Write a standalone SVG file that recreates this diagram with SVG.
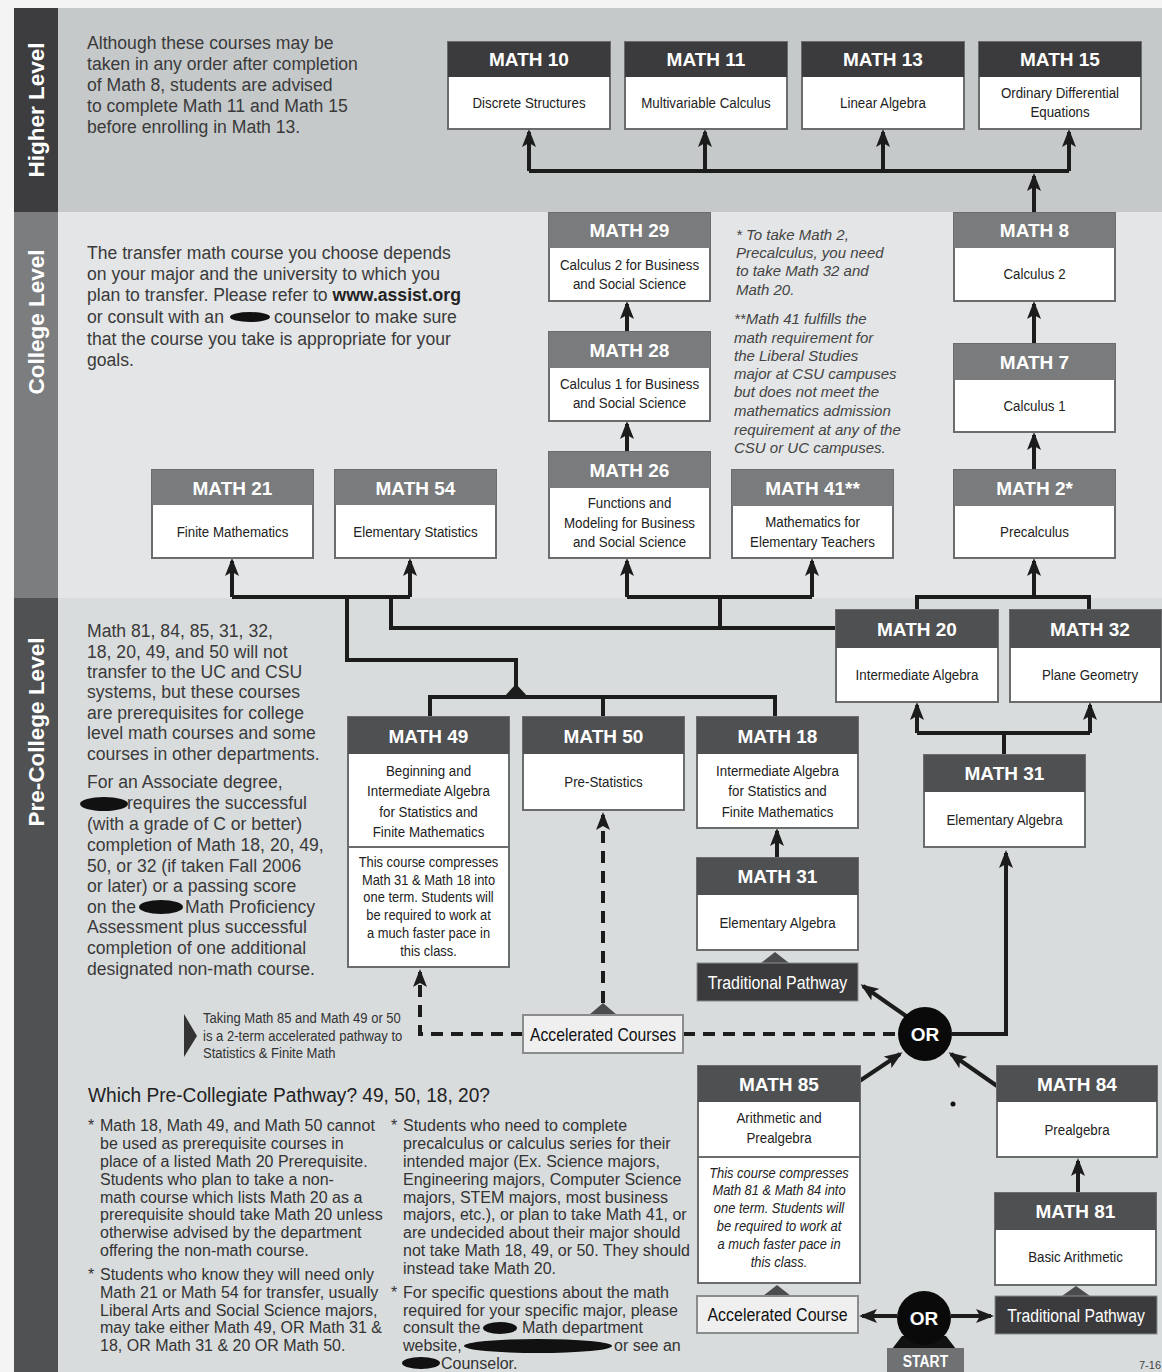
<svg xmlns="http://www.w3.org/2000/svg" width="1162" height="1372" viewBox="0 0 1162 1372">
<defs>
<style>
.hh{fill:#3b3b3d}.hc{fill:#797b7d}.hp{fill:#4e5052}
.bx{fill:#fff;stroke:#6a6c6e;stroke-width:2}
.ht{font-family:"Liberation Sans",Arial,sans-serif;font-weight:bold;font-size:19px;fill:#fff;text-anchor:middle}
.bt{font-family:"Liberation Sans",Arial,sans-serif;font-size:15.5px;fill:#222;text-anchor:middle}
.bs{font-family:"Liberation Sans",Arial,sans-serif;font-size:15px;fill:#222;text-anchor:middle}
.it{font-style:italic}
.pa{font-family:"Liberation Sans",Arial,sans-serif;font-size:17.6px;fill:#3a3a3a}
.fn{font-family:"Liberation Sans",Arial,sans-serif;font-style:italic;font-size:15px;fill:#444}
.nt{font-family:"Liberation Sans",Arial,sans-serif;font-size:16px;fill:#333}
.ns{font-family:"Liberation Sans",Arial,sans-serif;font-size:14.5px;fill:#333}
.hd{font-family:"Liberation Sans",Arial,sans-serif;font-size:19.5px;fill:#222}
.sd{font-family:"Liberation Sans",Arial,sans-serif;font-weight:bold;font-size:22.5px;fill:#fff;text-anchor:middle}
.cn{fill:none;stroke:#1c1c1c;stroke-width:4}
.ar{marker-end:url(#ah)}
.ds{stroke-dasharray:12 8}
.pl{font-family:"Liberation Sans",Arial,sans-serif;font-size:19px;text-anchor:middle}
.or{font-family:"Liberation Sans",Arial,sans-serif;font-weight:bold;font-size:19px;fill:#fff;text-anchor:middle}
.rd{fill:#111}
.tri{fill:#4a4c4e}
</style>
<marker id="ah" viewBox="0 0 18 14" refX="15" refY="7" markerWidth="18" markerHeight="14" markerUnits="userSpaceOnUse" orient="auto">
<path d="M0,0 L18,7 L0,14 L4,7 z" fill="#1c1c1c"/>
</marker>
</defs>

<!-- background bands -->
<rect x="0" y="0" width="1162" height="1372" fill="#f4f4f4"/>
<rect x="58" y="8" width="1104" height="204" fill="#c6c9ca"/>
<rect x="58" y="212" width="1104" height="386" fill="#e3e5e6"/>
<rect x="58" y="598" width="1104" height="774" fill="#d9dcdd"/>
<rect x="14" y="8" width="44" height="204" fill="#3d3d3f"/>
<rect x="14" y="212" width="44" height="386" fill="#7b7d7f"/>
<rect x="14" y="598" width="44" height="774" fill="#4f5153"/>
<text class="sd" transform="translate(44,110) rotate(-90)">Higher Level</text>
<text class="sd" transform="translate(44,322) rotate(-90)">College Level</text>
<text class="sd" transform="translate(44,732) rotate(-90)">Pre-College Level</text>

<!-- descriptive texts -->
<g id="higher-note">
<text class="pa" x="87" y="49">Although these courses may be</text>
<text class="pa" x="87" y="70">taken in any order after completion</text>
<text class="pa" x="87" y="91">of Math 8, students are advised</text>
<text class="pa" x="87" y="112">to complete Math 11 and Math 15</text>
<text class="pa" x="87" y="133">before enrolling in Math 13.</text>
</g>
<g id="college-note">
<text class="pa" x="87" y="259">The transfer math course you choose depends</text>
<text class="pa" x="87" y="280">on your major and the university to which you</text>
<text class="pa" x="87" y="301">plan to transfer. Please refer to <tspan font-weight="bold" fill="#222">www.assist.org</tspan></text>
<text class="pa" x="87" y="323">or consult with an</text>
<ellipse class="rd" cx="250" cy="317" rx="20" ry="5"/>
<text class="pa" x="274" y="323">counselor to make sure</text>
<text class="pa" x="87" y="345">that the course you take is appropriate for your</text>
<text class="pa" x="87" y="366">goals.</text>
</g>
<g id="footnotes">
<text class="fn" x="736" y="240">* To take Math 2,</text>
<text class="fn" x="736" y="258">Precalculus, you need</text>
<text class="fn" x="736" y="276">to take Math 32 and</text>
<text class="fn" x="736" y="295">Math 20.</text>
<text class="fn" x="734" y="324">**Math 41 fulfills the</text>
<text class="fn" x="734" y="343">math requirement for</text>
<text class="fn" x="734" y="361">the Liberal Studies</text>
<text class="fn" x="734" y="379">major at CSU campuses</text>
<text class="fn" x="734" y="397">but does not meet the</text>
<text class="fn" x="734" y="416">mathematics admission</text>
<text class="fn" x="734" y="435">requirement at any of the</text>
<text class="fn" x="734" y="453">CSU or UC campuses.</text>
</g>
<g id="precollege-note">
<text class="pa" x="87" y="637">Math 81, 84, 85, 31, 32,</text>
<text class="pa" x="87" y="658">18, 20, 49, and 50 will not</text>
<text class="pa" x="87" y="678">transfer to the UC and CSU</text>
<text class="pa" x="87" y="698">systems, but these courses</text>
<text class="pa" x="87" y="719">are prerequisites for college</text>
<text class="pa" x="87" y="739">level math courses and some</text>
<text class="pa" x="87" y="760">courses in other departments.</text>
<text class="pa" x="87" y="788">For an Associate degree,</text>
<ellipse class="rd" cx="104" cy="804" rx="24" ry="7"/>
<text class="pa" x="127" y="809">requires the successful</text>
<text class="pa" x="87" y="830">(with a grade of C or better)</text>
<text class="pa" x="87" y="851">completion of Math 18, 20, 49,</text>
<text class="pa" x="87" y="872">50, or 32 (if taken Fall 2006</text>
<text class="pa" x="87" y="892">or later) or a passing score</text>
<text class="pa" x="87" y="913">on the</text>
<ellipse class="rd" cx="161" cy="907" rx="22" ry="7"/>
<text class="pa" x="185" y="913">Math Proficiency</text>
<text class="pa" x="87" y="933">Assessment plus successful</text>
<text class="pa" x="87" y="954">completion of one additional</text>
<text class="pa" x="87" y="975">designated non-math course.</text>
</g>
<g id="accel-note">
<polygon points="184,1014 197,1036 184,1057" fill="#333"/>
<text class="ns" transform="translate(203,1023) scale(0.9,1)">Taking Math 85 and Math 49 or 50</text>
<text class="ns" transform="translate(203,1041) scale(0.9,1)">is a 2-term accelerated pathway to</text>
<text class="ns" transform="translate(203,1058) scale(0.9,1)">Statistics &amp; Finite Math</text>
</g>
<g id="pathway-notes">
<text class="hd" x="88" y="1102" textLength="402" lengthAdjust="spacingAndGlyphs">Which Pre-Collegiate Pathway? 49, 50, 18, 20?</text>
<text class="nt" x="88" y="1131">*</text>
<text class="nt" x="100" y="1131">Math 18, Math 49, and Math 50 cannot</text>
<text class="nt" x="100" y="1149">be used as prerequisite courses in</text>
<text class="nt" x="100" y="1167">place of a listed Math 20 Prerequisite.</text>
<text class="nt" x="100" y="1185">Students who plan to take a non-</text>
<text class="nt" x="100" y="1203">math course which lists Math 20 as a</text>
<text class="nt" x="100" y="1220">prerequisite should take Math 20 unless</text>
<text class="nt" x="100" y="1238">otherwise advised by the department</text>
<text class="nt" x="100" y="1256">offering the non-math course.</text>
<text class="nt" x="88" y="1280">*</text>
<text class="nt" x="100" y="1280">Students who know they will need only</text>
<text class="nt" x="100" y="1298">Math 21 or Math 54 for transfer, usually</text>
<text class="nt" x="100" y="1316">Liberal Arts and Social Science majors,</text>
<text class="nt" x="100" y="1333">may take either Math 49, OR Math 31 &amp;</text>
<text class="nt" x="100" y="1351">18, OR Math 31 &amp; 20 OR Math 50.</text>
<text class="nt" x="391" y="1131">*</text>
<text class="nt" x="403" y="1131">Students who need to complete</text>
<text class="nt" x="403" y="1149">precalculus or calculus series for their</text>
<text class="nt" x="403" y="1167">intended major (Ex. Science majors,</text>
<text class="nt" x="403" y="1185">Engineering majors, Computer Science</text>
<text class="nt" x="403" y="1203">majors, STEM majors, most business</text>
<text class="nt" x="403" y="1220">majors, etc.), or plan to take Math 41, or</text>
<text class="nt" x="403" y="1238">are undecided about their major should</text>
<text class="nt" x="403" y="1256">not take Math 18, 49, or 50. They should</text>
<text class="nt" x="403" y="1274">instead take Math 20.</text>
<text class="nt" x="391" y="1298">*</text>
<text class="nt" x="403" y="1298">For specific questions about the math</text>
<text class="nt" x="403" y="1316">required for your specific major, please</text>
<text class="nt" x="403" y="1333">consult the</text>
<ellipse class="rd" cx="500" cy="1328" rx="17" ry="6"/>
<text class="nt" x="522" y="1333">Math department</text>
<text class="nt" x="403" y="1351">website,</text>
<ellipse class="rd" cx="538" cy="1346" rx="74" ry="7"/>
<text class="nt" x="614" y="1351">or see an</text>
<ellipse class="rd" cx="421" cy="1363" rx="19" ry="6"/>
<text class="nt" x="441" y="1369">Counselor.</text>
</g>

<!-- connectors -->
<g id="connectors">
<path class="cn" d="M529,171 H1069"/>
<path class="cn ar" d="M529,171 V132"/>
<path class="cn ar" d="M705,171 V132"/>
<path class="cn ar" d="M883,171 V132"/>
<path class="cn ar" d="M1069,171 V132"/>
<path class="cn ar" d="M1034,212 V176"/>
<path class="cn ar" d="M1034,344 V304"/>
<path class="cn ar" d="M1034,470 V435"/>
<path class="cn ar" d="M627,332 V304"/>
<path class="cn ar" d="M627,452 V424"/>
<path class="cn" d="M232,597 H410"/>
<path class="cn ar" d="M232,597 V561"/>
<path class="cn ar" d="M410,597 V561"/>
<path class="cn" d="M627,597 H812"/>
<path class="cn ar" d="M627,597 V561"/>
<path class="cn ar" d="M812,597 V561"/>
<path class="cn" d="M720,597 V628"/>
<path class="cn" d="M391,597 V628 H836"/>
<path class="cn" d="M347,597 V660 H516 V690"/>
<path class="cn" d="M917,610 V597"/>
<path class="cn" d="M915,597 H1089 V610"/>
<path class="cn ar" d="M1034,597 V561"/>
<path class="cn" d="M430,717 V697 H775 V717"/>
<path class="cn" d="M603,697 V717"/>
<polygon points="503,698 516,684 529,698" fill="#1c1c1c"/>
<path class="cn" d="M1004,755 V733"/>
<path class="cn" d="M917,733 H1090"/>
<path class="cn ar" d="M917,733 V705"/>
<path class="cn ar" d="M1090,733 V705"/>
<path class="cn ar" d="M777,858 V831"/>
<polygon class="tri" points="761,963 775,952 789,963"/>
<path class="cn ar" d="M952,1034 H1006 V853"/>
<path class="cn ar" d="M906,1016 L863,986"/>
<path class="cn ar" d="M852,1086 L900,1054"/>
<path class="cn ar" d="M997,1086 L951,1054"/>
<path class="cn ds" d="M683,1034 H898"/>
<path class="cn ds ar" d="M523,1034 H420 V972"/>
<path class="cn ds ar" d="M603,1003 V815"/>
<polygon class="tri" points="589,1015 603,1003 617,1015"/>
<path class="cn ar" d="M1078,1193 V1161"/>
<polygon class="tri" points="1062,1296 1076,1286 1090,1296"/>
<polygon class="tri" points="763,1296 777,1285 791,1296"/>
<path class="cn ar" d="M897,1316 H862"/>
<path class="cn ar" d="M951,1316 H991"/>
</g>

<!-- Higher level nodes -->
<g id="m10"><rect class="bx" x="448" y="42" width="162" height="87"/><rect class="hh" x="448" y="42" width="162" height="35"/>
<text class="ht" x="529" y="66">MATH 10</text><text class="bt" transform="translate(529,108) scale(0.86,1)">Discrete Structures</text></g>
<g id="m11"><rect class="bx" x="625" y="42" width="162" height="87"/><rect class="hh" x="625" y="42" width="162" height="35"/>
<text class="ht" x="706" y="66">MATH 11</text><text class="bt" transform="translate(706,108) scale(0.86,1)">Multivariable Calculus</text></g>
<g id="m13"><rect class="bx" x="802" y="42" width="162" height="87"/><rect class="hh" x="802" y="42" width="162" height="35"/>
<text class="ht" x="883" y="66">MATH 13</text><text class="bt" transform="translate(883,108) scale(0.86,1)">Linear Algebra</text></g>
<g id="m15"><rect class="bx" x="979" y="42" width="162" height="87"/><rect class="hh" x="979" y="42" width="162" height="35"/>
<text class="ht" x="1060" y="66">MATH 15</text><text class="bt" transform="translate(1060,98) scale(0.86,1)">Ordinary Differential</text><text class="bt" transform="translate(1060,117) scale(0.86,1)">Equations</text></g>

<!-- College level nodes -->
<g id="m29"><rect class="bx" x="549" y="213" width="161" height="88"/><rect class="hc" x="549" y="213" width="161" height="35"/>
<text class="ht" x="629.5" y="237">MATH 29</text><text class="bt" transform="translate(629.5,270) scale(0.86,1)">Calculus 2 for Business</text><text class="bt" transform="translate(629.5,289) scale(0.86,1)">and Social Science</text></g>
<g id="m28"><rect class="bx" x="549" y="332" width="161" height="89"/><rect class="hc" x="549" y="332" width="161" height="36"/>
<text class="ht" x="629.5" y="357">MATH 28</text><text class="bt" transform="translate(629.5,389) scale(0.86,1)">Calculus 1 for Business</text><text class="bt" transform="translate(629.5,408) scale(0.86,1)">and Social Science</text></g>
<g id="m26"><rect class="bx" x="549" y="452" width="161" height="106"/><rect class="hc" x="549" y="452" width="161" height="36"/>
<text class="ht" x="629.5" y="477">MATH 26</text><text class="bt" transform="translate(629.5,508) scale(0.86,1)">Functions and</text><text class="bt" transform="translate(629.5,528) scale(0.86,1)">Modeling for Business</text><text class="bt" transform="translate(629.5,547) scale(0.86,1)">and Social Science</text></g>
<g id="m41"><rect class="bx" x="732" y="470" width="161" height="88"/><rect class="hc" x="732" y="470" width="161" height="36"/>
<text class="ht" x="812.5" y="495">MATH 41**</text><text class="bt" transform="translate(812.5,527) scale(0.86,1)">Mathematics for</text><text class="bt" transform="translate(812.5,547) scale(0.86,1)">Elementary Teachers</text></g>
<g id="m8"><rect class="bx" x="954" y="213" width="161" height="88"/><rect class="hc" x="954" y="213" width="161" height="35"/>
<text class="ht" x="1034.5" y="237">MATH 8</text><text class="bt" transform="translate(1034.5,279) scale(0.86,1)">Calculus 2</text></g>
<g id="m7"><rect class="bx" x="954" y="344" width="161" height="88"/><rect class="hc" x="954" y="344" width="161" height="36"/>
<text class="ht" x="1034.5" y="369">MATH 7</text><text class="bt" transform="translate(1034.5,411) scale(0.86,1)">Calculus 1</text></g>
<g id="m2"><rect class="bx" x="954" y="470" width="161" height="88"/><rect class="hc" x="954" y="470" width="161" height="36"/>
<text class="ht" x="1034.5" y="495">MATH 2*</text><text class="bt" transform="translate(1034.5,537) scale(0.86,1)">Precalculus</text></g>
<g id="m21"><rect class="bx" x="152" y="470" width="161" height="88"/><rect class="hc" x="152" y="470" width="161" height="35"/>
<text class="ht" x="232.5" y="495">MATH 21</text><text class="bt" transform="translate(232.5,537) scale(0.86,1)">Finite Mathematics</text></g>
<g id="m54"><rect class="bx" x="335" y="470" width="161" height="88"/><rect class="hc" x="335" y="470" width="161" height="35"/>
<text class="ht" x="415.5" y="495">MATH 54</text><text class="bt" transform="translate(415.5,537) scale(0.86,1)">Elementary Statistics</text></g>

<!-- Pre-college nodes -->
<g id="m20"><rect class="bx" x="836" y="610" width="162" height="92"/><rect class="hp" x="836" y="610" width="162" height="38"/>
<text class="ht" x="917" y="636">MATH 20</text><text class="bt" transform="translate(917,680) scale(0.86,1)">Intermediate Algebra</text></g>
<g id="m32"><rect class="bx" x="1010" y="610" width="151" height="92"/><rect class="hp" x="1010" y="610" width="151" height="38"/>
<text class="ht" x="1090" y="636">MATH 32</text><text class="bt" transform="translate(1090,680) scale(0.86,1)">Plane Geometry</text></g>
<g id="m31r"><rect class="bx" x="924" y="755" width="161" height="92"/><rect class="hp" x="924" y="755" width="161" height="37"/>
<text class="ht" x="1004.5" y="780">MATH 31</text><text class="bt" transform="translate(1004.5,825) scale(0.86,1)">Elementary Algebra</text></g>
<g id="m49"><rect class="bx" x="348" y="717" width="161" height="250"/><rect class="hp" x="348" y="717" width="161" height="37"/>
<line x1="348" y1="847" x2="509" y2="847" stroke="#6a6c6e" stroke-width="2"/>
<text class="ht" x="428.5" y="743">MATH 49</text>
<text class="bt" transform="translate(428.5,776) scale(0.86,1)">Beginning and</text><text class="bt" transform="translate(428.5,796) scale(0.86,1)">Intermediate Algebra</text><text class="bt" transform="translate(428.5,817) scale(0.86,1)">for Statistics and</text><text class="bt" transform="translate(428.5,837) scale(0.86,1)">Finite Mathematics</text>
<text class="bs" transform="translate(428.5,867) scale(0.86,1)">This course compresses</text><text class="bs" transform="translate(428.5,885) scale(0.86,1)">Math 31 &amp; Math 18 into</text><text class="bs" transform="translate(428.5,902) scale(0.86,1)">one  term. Students will</text><text class="bs" transform="translate(428.5,920) scale(0.86,1)">be required to work at</text><text class="bs" transform="translate(428.5,938) scale(0.86,1)">a much faster pace in</text><text class="bs" transform="translate(428.5,956) scale(0.86,1)">this class.</text></g>
<g id="m50"><rect class="bx" x="523" y="717" width="161" height="93"/><rect class="hp" x="523" y="717" width="161" height="37"/>
<text class="ht" x="603.5" y="743">MATH 50</text><text class="bt" transform="translate(603.5,787) scale(0.86,1)">Pre-Statistics</text></g>
<g id="m18"><rect class="bx" x="697" y="717" width="161" height="111"/><rect class="hp" x="697" y="717" width="161" height="37"/>
<text class="ht" x="777.5" y="743">MATH 18</text><text class="bt" transform="translate(777.5,776) scale(0.86,1)">Intermediate Algebra</text><text class="bt" transform="translate(777.5,796) scale(0.86,1)">for Statistics and</text><text class="bt" transform="translate(777.5,817) scale(0.86,1)">Finite Mathematics</text></g>
<g id="m31m"><rect class="bx" x="697" y="858" width="161" height="92"/><rect class="hp" x="697" y="858" width="161" height="37"/>
<text class="ht" x="777.5" y="883">MATH 31</text><text class="bt" transform="translate(777.5,928) scale(0.86,1)">Elementary Algebra</text></g>
<g id="trad-upper"><rect x="697" y="963" width="161" height="38" fill="#3b3b3d" stroke="#8a8c8e" stroke-width="1"/>
<text class="pl" transform="translate(777.5,989) scale(0.84,1)" fill="#fff">Traditional Pathway</text></g>
<g id="accel-courses"><rect x="523" y="1015" width="160" height="38" fill="#efefef" stroke="#8a8c8e" stroke-width="2"/>
<text class="pl" transform="translate(603,1041) scale(0.83,1)" fill="#111">Accelerated Courses</text></g>
<g id="or-upper"><circle cx="925" cy="1034" r="27" fill="#0a0a0a"/><text class="or" x="925" y="1041">OR</text></g>
<circle cx="953" cy="1104" r="2.5" fill="#111"/>
<g id="m85"><rect class="bx" x="698" y="1066" width="162" height="217"/><rect class="hp" x="698" y="1066" width="162" height="36"/>
<line x1="698" y1="1157" x2="860" y2="1157" stroke="#6a6c6e" stroke-width="2"/>
<text class="ht" x="779" y="1091">MATH 85</text>
<text class="bt" transform="translate(779,1123) scale(0.86,1)">Arithmetic and</text><text class="bt" transform="translate(779,1143) scale(0.86,1)">Prealgebra</text>
<text class="bs it" transform="translate(779,1178) scale(0.86,1)">This course compresses</text><text class="bs it" transform="translate(779,1195) scale(0.86,1)">Math 81 &amp; Math 84 into</text><text class="bs it" transform="translate(779,1213) scale(0.86,1)">one  term. Students will</text><text class="bs it" transform="translate(779,1231) scale(0.86,1)">be required to work at</text><text class="bs it" transform="translate(779,1249) scale(0.86,1)">a much faster pace in</text><text class="bs it" transform="translate(779,1267) scale(0.86,1)">this class.</text></g>
<g id="m84"><rect class="bx" x="997" y="1066" width="160" height="91"/><rect class="hp" x="997" y="1066" width="160" height="36"/>
<text class="ht" x="1077" y="1091">MATH 84</text><text class="bt" transform="translate(1077,1135) scale(0.86,1)">Prealgebra</text></g>
<g id="m81"><rect class="bx" x="995" y="1193" width="161" height="92"/><rect class="hp" x="995" y="1193" width="161" height="37"/>
<text class="ht" x="1075.5" y="1218">MATH 81</text><text class="bt" transform="translate(1075.5,1262) scale(0.86,1)">Basic Arithmetic</text></g>
<g id="accel-course"><rect x="697" y="1296" width="161" height="37" fill="#efefef" stroke="#8a8c8e" stroke-width="2"/>
<text class="pl" transform="translate(777.5,1321) scale(0.84,1)" fill="#111">Accelerated Course</text></g>
<g id="trad-lower"><rect x="995" y="1296" width="162" height="38" fill="#3b3b3d" stroke="#8a8c8e" stroke-width="1"/>
<text class="pl" transform="translate(1076,1322) scale(0.83,1)" fill="#fff">Traditional Pathway</text></g>
<g id="or-start">
<polygon points="892,1349 956,1349 946,1336 902,1336" fill="#111"/>
<circle cx="924" cy="1318" r="27" fill="#0a0a0a"/><text class="or" x="924" y="1325">OR</text>
<rect x="887" y="1348" width="77" height="24" fill="#6f7173"/>
<text transform="translate(925.5,1367) scale(0.87,1)" fill="#fff" font-family="Liberation Sans,Arial,sans-serif" font-weight="bold" font-size="16" text-anchor="middle">START</text>
</g>
<text x="1139" y="1369" font-family="Liberation Sans,Arial,sans-serif" font-size="11" fill="#444">7-16</text>
</svg>
